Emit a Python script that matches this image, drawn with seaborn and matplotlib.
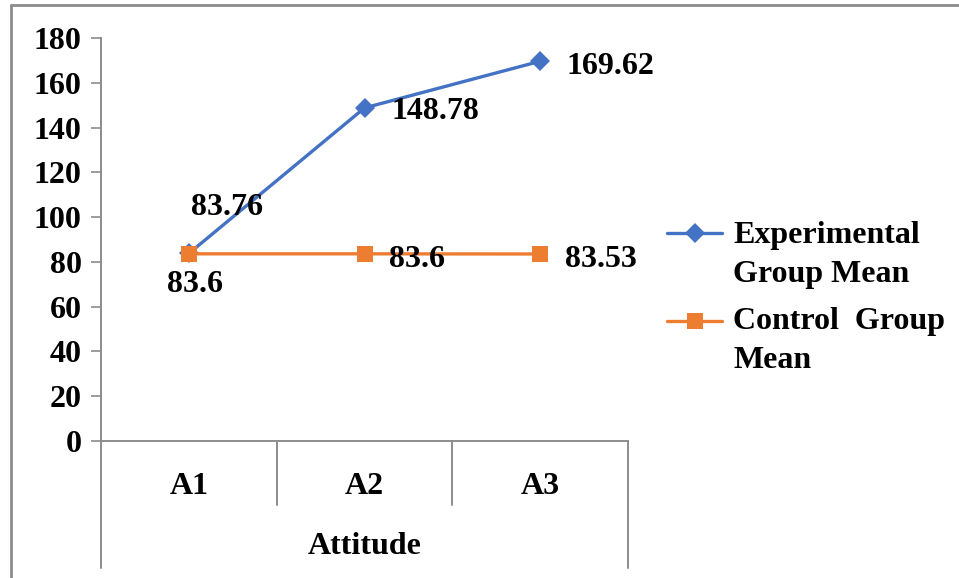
import matplotlib
matplotlib.use("Agg")
import matplotlib.pyplot as plt
import matplotlib.transforms as mtransforms
from matplotlib.lines import Line2D
import seaborn as sns
import pandas as pd

# Chart data
categories = ["A1", "A2", "A3"]
experimental_mean = [83.76, 148.78, 169.62]
control_mean = [83.6, 83.6, 83.53]
series_names = ["Experimental Group Mean", "Control Group Mean"]
legend_lines = [["Experimental", "Group Mean"], ["Control  Group", "Mean"]]
axis_title = "Attitude"
y_ticks = [0, 20, 40, 60, 80, 100, 120, 140, 160, 180]

BLUE = "#4472C4"
ORANGE = "#ED7D31"
GRID = "#8C8C8C"

sns.set_theme(style="white")
plt.rcParams["font.family"] = ["Liberation Serif", "DejaVu Serif"]
plt.rcParams["font.weight"] = "bold"
plt.rcParams["text.color"] = "black"
FS = 23

df = pd.DataFrame({
    "cat": categories * 2,
    "x": list(range(len(categories))) * 2,
    "value": experimental_mean + control_mean,
    "series": [series_names[0]] * 3 + [series_names[1]] * 3,
})

fig = plt.figure(figsize=(9.59, 5.78), dpi=100)
ax = fig.add_axes([101 / 959, 1 - 441 / 578, (628 - 101) / 959, (441 - 38) / 578])

# Control series is drawn last so its markers sit on top
sns.lineplot(
    data=df, x="x", y="value", hue="series", style="series",
    palette={series_names[0]: BLUE, series_names[1]: ORANGE},
    markers={series_names[0]: "D", series_names[1]: "s"},
    dashes=False, linewidth=2.4, markersize=11, markeredgewidth=0,
    hue_order=series_names, style_order=series_names, legend=False, ax=ax,
)
for i, ln in enumerate(ax.get_lines()):
    ln.set_clip_on(False)
    ln.set_zorder(3 + i)
    if ln.get_marker() == "D":
        ln.set_markersize(10)

ax.set_xlim(-0.5, len(categories) - 0.5)
ax.set_ylim(0, 180)
ax.set_yticks(y_ticks)
ax.set_yticklabels([str(t) for t in y_ticks], fontsize=FS, fontweight="bold", color="black")
ax.set_xticks(range(len(categories)))
ax.set_xticklabels(categories, fontsize=FS, fontweight="bold", color="black")
ax.tick_params(axis="y", direction="out", length=7.5, width=1.2, color=GRID, pad=6.5, left=True)
ax.tick_params(axis="x", length=0, pad=22.5)
ax.set_xlabel("")
ax.set_ylabel("")

for side in ["top", "right"]:
    ax.spines[side].set_visible(False)
for side in ["left", "bottom"]:
    ax.spines[side].set_color(GRID)
    ax.spines[side].set_linewidth(1.4)

# Category separators below the axis
trans = mtransforms.blended_transform_factory(ax.transData, ax.transAxes)
px = 1 / (441 - 38)
n = len(categories)
for i in range(n + 1):
    xb = i - 0.5
    depth = (568 - 441) if i in (0, n) else (505 - 441)
    ax.add_line(Line2D([xb, xb], [0, -depth * px], transform=trans,
                       color=GRID, lw=1.4, clip_on=False))
ax.text((n - 1) / 2, -(547 - 441) * px, axis_title, transform=trans,
        ha="center", va="center", fontsize=FS, fontweight="bold", color="black")

# Data labels
def label(x, y, text, dx, dy, ha):
    ax.annotate(text, (x, y), xytext=(dx * 0.72, dy * 0.72), textcoords="offset points",
                ha=ha, va="center", fontsize=FS, fontweight="bold", color="black",
                annotation_clip=False, zorder=6)

label(0, experimental_mean[0], f"{experimental_mean[0]:g}", 38, 46, "center")
label(1, experimental_mean[1], f"{experimental_mean[1]:g}", 27, -4, "left")
label(2, experimental_mean[2], f"{experimental_mean[2]:g}", 26, -5, "left")
label(0, control_mean[0], f"{control_mean[0]:g}", 6, -31, "center")
label(1, control_mean[1], f"{control_mean[1]:g}", 25, -6, "left")
label(2, control_mean[2], f"{control_mean[2]:g}", 25, -6, "left")

# Legend
leg_items = [(233, [243, 282], BLUE, "D", 10, legend_lines[0]),
             (321, [329, 368], ORANGE, "s", 11, legend_lines[1])]
for ypx, baselines, col, mk, ms, lines in leg_items:
    yf = 1 - ypx / 578
    fig.add_artist(Line2D([667 / 959, 722 / 959], [yf, yf], color=col, lw=2.4,
                          transform=fig.transFigure))
    fig.add_artist(Line2D([694.5 / 959], [yf], color=col, marker=mk, markersize=ms,
                          markeredgewidth=0, transform=fig.transFigure))
    for bl, txt in zip(baselines, lines):
        fig.text(733 / 959, 1 - bl / 578, txt, ha="left", va="baseline", fontsize=FS,
                 fontweight="bold", color="black", transform=fig.transFigure)

# Outer frame (left and top edges)
fig.add_artist(Line2D([11 / 959, 11 / 959], [0, 1 - 5 / 578], color=GRID, lw=2,
                      transform=fig.transFigure))
fig.add_artist(Line2D([11 / 959, 1], [1 - 5 / 578, 1 - 5 / 578], color=GRID, lw=2,
                      transform=fig.transFigure))

fig.savefig("out.png", dpi=100)
